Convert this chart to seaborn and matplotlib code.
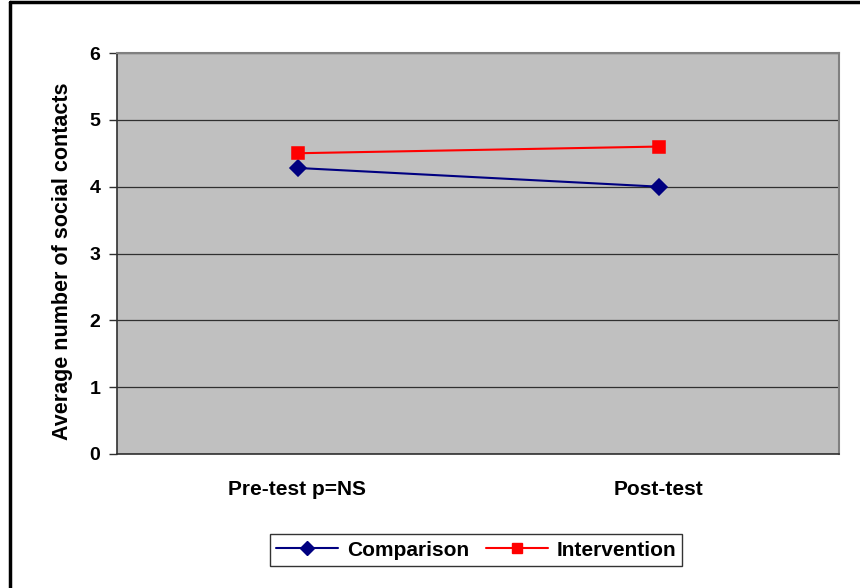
import matplotlib
matplotlib.use("Agg")
import matplotlib.pyplot as plt
from matplotlib.lines import Line2D
import seaborn as sns
import pandas as pd

phases = ["Pre-test p=NS", "Post-test"]
comparison = [4.28, 4.0]
intervention = [4.5, 4.6]
groups = ["Comparison", "Intervention"]
colors = ["#000080", "#FF0000"]
yticks = [0, 1, 2, 3, 4, 5, 6]

df = pd.DataFrame({
    "phase": phases * 2,
    "value": comparison + intervention,
    "group": [groups[0]] * 2 + [groups[1]] * 2,
})

sns.set_style("white")
plt.rcParams["font.family"] = ["Liberation Sans", "DejaVu Sans"]
plt.rcParams["font.weight"] = "bold"
plt.rcParams["text.color"] = "black"
plt.rcParams["axes.labelcolor"] = "black"
plt.rcParams["xtick.color"] = "black"
plt.rcParams["ytick.color"] = "black"

fig = plt.figure(figsize=(8.6, 5.88), dpi=100)
ax = fig.add_axes([117/860, 1-454/588, (839-117)/860, (454-53)/588])
ax.set_facecolor("#C0C0C0")

sns.pointplot(data=df, x="phase", y="value", hue="group", palette=colors,
              markers=["D", "s"], linestyles=["-", "-"], dodge=False,
              markersize=8.5, linewidth=1.5, errorbar=None, ax=ax, legend=False)

ax.set_xlim(-0.5, 1.5)
ax.set_ylim(0, 6)
ax.set_yticks(yticks)
ax.set_yticklabels([str(t) for t in yticks], fontsize=14, fontweight="bold")
ax.yaxis.grid(True, color="#303030", linewidth=0.9)
ax.set_axisbelow(True)
ax.set_xticks([0, 1])
ax.set_xticklabels(phases, fontsize=15, fontweight="bold")
ax.tick_params(axis="x", length=0, pad=19)
ax.set_xticks([-0.5, 0.5, 1.5], minor=True)
ax.tick_params(axis="x", which="minor", length=6, direction="out", color="#303030", width=1)
ax.tick_params(axis="y", length=6, direction="out", color="#303030", width=1, pad=6, left=True)
ax.set_xlabel("")
ax.set_ylabel("Average number of social contacts", fontsize=15.5, fontweight="bold")
ax.yaxis.set_label_coords(-0.061, 0.48)

for side in ["left", "bottom"]:
    ax.spines[side].set_color("#303030")
    ax.spines[side].set_linewidth(1.2)
for side in ["top", "right"]:
    ax.spines[side].set_color("#808080")
    ax.spines[side].set_linewidth(1.5)

handles = [Line2D([], [], color=colors[0], marker="D", markersize=7.5, linewidth=1.5),
           Line2D([], [], color=colors[1], marker="s", markersize=7.5, linewidth=1.5)]
leg = fig.legend(handles, groups, loc="center", bbox_to_anchor=(476/860, 1-550/588),
                 ncol=2, frameon=True, fancybox=False, edgecolor="black",
                 prop={"weight": "bold", "size": 15}, handlelength=3.0,
                 columnspacing=0.8, handletextpad=0.4, borderpad=0.3)
leg.get_frame().set_linewidth(1.0)

fig.add_artist(Line2D([10/860, 1.0], [1-2/588, 1-2/588], color="black", linewidth=2.5))
fig.add_artist(Line2D([10/860, 10/860], [0, 1-2/588], color="black", linewidth=2.5))

fig.savefig("out.png", dpi=100)
